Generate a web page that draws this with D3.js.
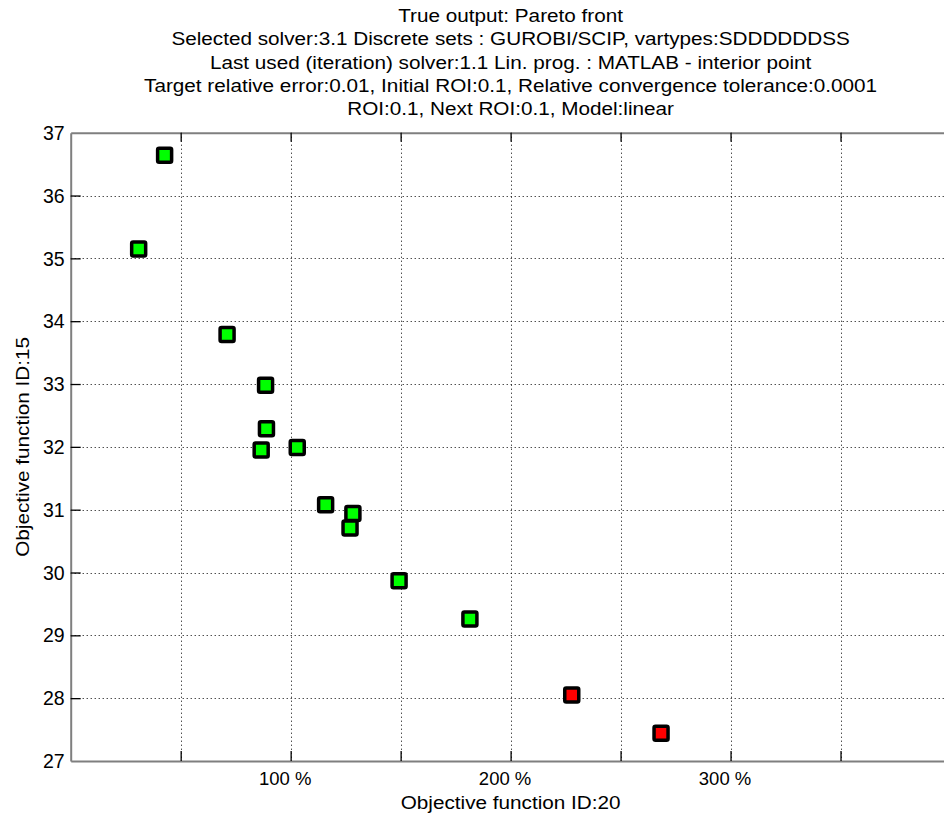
<!DOCTYPE html>
<html>
<head>
<meta charset="utf-8">
<script src="https://cdn.jsdelivr.net/npm/d3@7"></script>
<style>
  body { margin: 0; background: #fff; }
  svg text { font-family: "Liberation Sans", Arial, sans-serif; fill: #000; }
</style>
</head>
<body>
<div id="vis"></div>
<script>
// data
const titleLines = [
  "True output: Pareto front",
  "Selected solver:3.1 Discrete sets : GUROBI/SCIP, vartypes:SDDDDDDSS",
  "Last used (iteration) solver:1.1 Lin. prog. : MATLAB - interior point",
  "Target relative error:0.01, Initial ROI:0.1, Relative convergence tolerance:0.0001",
  "ROI:0.1, Next ROI:0.1, Model:linear"
];
const xLabel = "Objective function ID:20";
const yLabel = "Objective function ID:15";

const xTicks = [50, 100, 150, 200, 250, 300, 350];
const xTickLabels = [100, 200, 300];
const yTicks = [27, 28, 29, 30, 31, 32, 33, 34, 35, 36, 37];

// objective 20 (%) and objective 15
const ptX = [42.7, 30.9, 71.1, 88.6, 89.0, 86.6, 103.0, 115.9, 128.3, 127.0, 149.3, 181.5, 227.8, 268.4];
const ptY = [36.64, 35.15, 33.79, 32.98, 32.29, 31.95, 31.99, 31.08, 30.94, 30.71, 29.87, 29.26, 28.05, 27.44];
const ptOk = [1, 1, 1, 1, 1, 1, 1, 1, 1, 1, 1, 1, 0, 0];

const W = 944, H = 818;
const PLOT_L = 70.7, PLOT_R = 950.5, PLOT_T = 132.7, PLOT_B = 761;
const FONT = 18.5, WIDEN = 1.12; // matlab helvetica renders wider than liberation

const svg = d3.select("#vis").append("svg")
  .attr("width", W).attr("height", H);

svg.append("rect").attr("width", W).attr("height", H).attr("fill", "#fff");

const x = d3.scaleLinear().domain([0, 400]).range([PLOT_L, PLOT_R]);
const y = d3.scaleLinear().domain([27, 37]).range([PLOT_B, PLOT_T]);

// grid
const grid = svg.append("g")
  .attr("stroke", "#000").attr("stroke-width", 1)
  .attr("stroke-dasharray", "1,3");
grid.selectAll("line.gx").data(xTicks).join("line")
  .attr("class", "gx")
  .attr("x1", d => Math.round(x(d)) + 0.5).attr("x2", d => Math.round(x(d)) + 0.5)
  .attr("y1", PLOT_T).attr("y2", PLOT_B);
grid.selectAll("line.gy").data(yTicks.slice(1, -1)).join("line")
  .attr("class", "gy")
  .attr("x1", PLOT_L).attr("x2", W)
  .attr("y1", d => Math.round(y(d)) + 0.5).attr("y2", d => Math.round(y(d)) + 0.5);

// axes, ticks pointing inward
const xAxisB = d3.axisBottom(x).tickValues(xTicks).tickSizeInner(-10).tickSizeOuter(0)
  .tickPadding(11)
  .tickFormat(d => xTickLabels.includes(d) ? d + " %" : "");
const gxb = svg.append("g").attr("transform", `translate(0,${PLOT_B})`).call(xAxisB);

const xAxisT = d3.axisTop(x).tickValues(xTicks).tickSizeInner(-9).tickSizeOuter(0)
  .tickFormat("");
const gxt = svg.append("g").attr("transform", `translate(0,${PLOT_T})`).call(xAxisT);

const yAxis = d3.axisLeft(y).tickValues(yTicks).tickSizeInner(-10).tickSizeOuter(0)
  .tickPadding(6);
const gy = svg.append("g").attr("transform", `translate(${PLOT_L},0)`).call(yAxis);

[gxb, gxt, gy].forEach(g => {
  g.select(".domain").attr("stroke", "#7f7f7f").attr("stroke-width", 2);
  g.selectAll(".tick line").attr("stroke", "#000").attr("stroke-width", 1.3);
  g.selectAll(".tick text").attr("font-size", 18.5)
    .attr("font-family", "'Liberation Sans', Arial, sans-serif");
});
gy.selectAll(".tick text").attr("font-size", 19.5).attr("dy", "0.34em");
gxb.selectAll(".tick text").attr("dx", -6);
gy.selectAll(".tick line").filter(d => d === 27 || d === 37).remove();

// points
const pts = d3.range(ptX.length);
svg.append("g").selectAll("rect").data(pts).join("rect")
  .attr("x", i => x(ptX[i]) - 7)
  .attr("y", i => y(ptY[i]) - 7)
  .attr("width", 14).attr("height", 14)
  .attr("rx", 1.5)
  .attr("fill", i => ptOk[i] ? "#00ff00" : "#ff0000")
  .attr("stroke", "#000").attr("stroke-width", 3.5);

// title
const cx = (PLOT_L + PLOT_R) / 2;
svg.append("g")
  .attr("transform", `translate(${cx},0) scale(${WIDEN},1)`)
  .selectAll("text").data(titleLines).join("text")
  .attr("x", 0).attr("y", (d, i) => 22 + i * 23.3)
  .attr("text-anchor", "middle").attr("font-size", FONT)
  .text(d => d);

// axis labels
svg.append("text")
  .attr("transform", `translate(${cx},809) scale(${WIDEN},1)`)
  .attr("text-anchor", "middle").attr("font-size", FONT).text(xLabel);
svg.append("text")
  .attr("transform", `translate(29,${(PLOT_T + PLOT_B) / 2}) rotate(-90) scale(${WIDEN},1)`)
  .attr("text-anchor", "middle").attr("font-size", FONT).text(yLabel);
</script>
</body>
</html>
